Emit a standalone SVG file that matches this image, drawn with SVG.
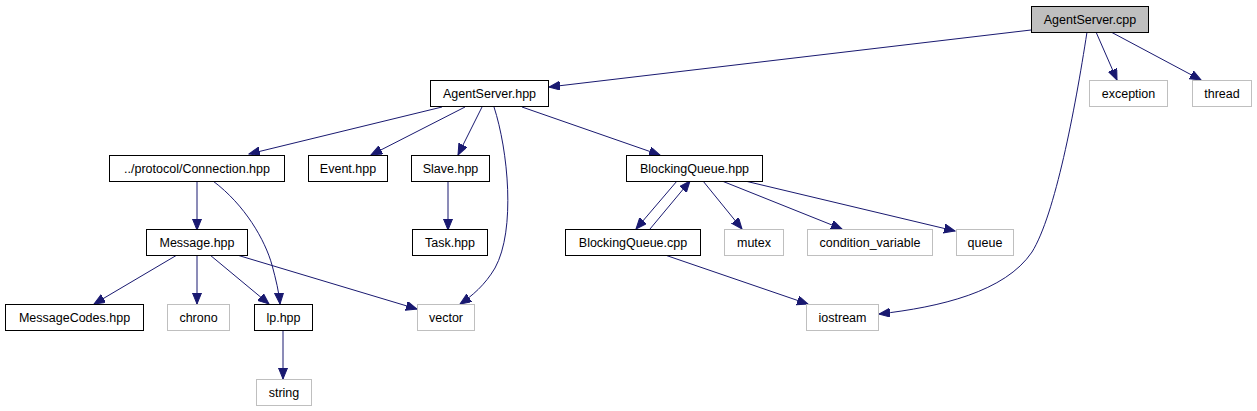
<svg xmlns="http://www.w3.org/2000/svg" width="1257" height="411" viewBox="0 0 1257 411">
<style>
.n rect{fill:#fff;stroke:#000;stroke-width:1}
.x rect{fill:#fff;stroke:#bfbfbf;stroke-width:1}
.root rect{fill:#bfbfbf;stroke:#000}
text{font-family:"Liberation Sans",Arial,sans-serif;font-size:12.5px;fill:#000;text-anchor:middle}
.e path{fill:none;stroke:#191970;stroke-width:1;marker-end:url(#a)}
</style>
<defs>
<marker id="a" markerUnits="userSpaceOnUse" markerWidth="12" markerHeight="10" refX="11" refY="4.5" orient="auto">
<path d="M0,0 L11,4.5 L0,9 Z" fill="#191970" stroke="#191970" stroke-width="1"/>
</marker>
</defs>
<rect width="1257" height="411" fill="#fff"/>
<g id="edges" class="e">
<path d="M1031,30 L549,87"/>
<path d="M1096,32 L1117,80"/>
<path d="M1111,32 L1201,80"/>
<path d="M1087,32 C1075,110 1055,215 1032,252 C1005,292 940,307 879,314"/>
<path d="M442,107 L249,154"/>
<path d="M465,107 L371,155"/>
<path d="M482,107 L458,155"/>
<path d="M494,107 C508,150 516,230 495,268 C485,285 472,296 460,304"/>
<path d="M522,107 L660,155"/>
<path d="M197,181 L197,230"/>
<path d="M213,181 C245,205 265,240 272,265 C276,280 279,292 280,304"/>
<path d="M448,181 L448,230"/>
<path d="M177,255 L94,304"/>
<path d="M197,255 L197,304"/>
<path d="M210,255 L269,304"/>
<path d="M237,255 L417,309"/>
<path d="M283,330 L283,379"/>
<path d="M677,181 L636,229"/>
<path d="M650,229 L690,181"/>
<path d="M703,181 L742,229"/>
<path d="M722,181 L842,229"/>
<path d="M745,181 L955,231"/>
<path d="M665,255 L808,304"/>
</g>
<g id="AgentServer_cpp" class="n root"><rect x="1031.5" y="6.5" width="117" height="26"/><text x="1090" y="24">AgentServer.cpp</text></g>
<g id="exception" class="x"><rect x="1089.5" y="80.5" width="78" height="26"/><text x="1128.5" y="98">exception</text></g>
<g id="thread" class="x"><rect x="1192.5" y="80.5" width="59" height="26"/><text x="1222" y="98">thread</text></g>
<g id="AgentServer_hpp" class="n"><rect x="430.5" y="80.5" width="118" height="26"/><text x="489.5" y="98">AgentServer.hpp</text></g>
<g id="Connection_hpp" class="n"><rect x="109.5" y="155.5" width="175" height="26"/><text x="197" y="173">../protocol/Connection.hpp</text></g>
<g id="Event_hpp" class="n"><rect x="308.5" y="155.5" width="79" height="26"/><text x="348" y="173">Event.hpp</text></g>
<g id="Slave_hpp" class="n"><rect x="411.5" y="155.5" width="78" height="26"/><text x="450.5" y="173">Slave.hpp</text></g>
<g id="BlockingQueue_hpp" class="n"><rect x="626.5" y="155.5" width="136" height="26"/><text x="694.5" y="173">BlockingQueue.hpp</text></g>
<g id="Message_hpp" class="n"><rect x="146.5" y="229.5" width="101" height="26"/><text x="197" y="247">Message.hpp</text></g>
<g id="Task_hpp" class="n"><rect x="412.5" y="229.5" width="75" height="26"/><text x="450" y="247">Task.hpp</text></g>
<g id="BlockingQueue_cpp" class="n"><rect x="565.5" y="229.5" width="135" height="26"/><text x="633" y="247">BlockingQueue.cpp</text></g>
<g id="mutex" class="x"><rect x="724.5" y="229.5" width="59" height="26"/><text x="754" y="247">mutex</text></g>
<g id="condition_variable" class="x"><rect x="807.5" y="229.5" width="125" height="26"/><text x="870" y="247">condition_variable</text></g>
<g id="queue" class="x"><rect x="956.5" y="229.5" width="57" height="26"/><text x="985" y="247">queue</text></g>
<g id="MessageCodes_hpp" class="n"><rect x="5.5" y="304.5" width="138" height="26"/><text x="74.5" y="322">MessageCodes.hpp</text></g>
<g id="chrono" class="x"><rect x="167.5" y="304.5" width="62" height="26"/><text x="198.5" y="322">chrono</text></g>
<g id="lp_hpp" class="n"><rect x="254.5" y="304.5" width="58" height="26"/><text x="283.5" y="322">lp.hpp</text></g>
<g id="vector" class="x"><rect x="417.5" y="304.5" width="57" height="26"/><text x="446" y="322">vector</text></g>
<g id="iostream" class="x"><rect x="806.5" y="304.5" width="72" height="26"/><text x="842.5" y="322">iostream</text></g>
<g id="string" class="x"><rect x="256.5" y="379.5" width="55" height="26"/><text x="284" y="397">string</text></g>
</svg>
